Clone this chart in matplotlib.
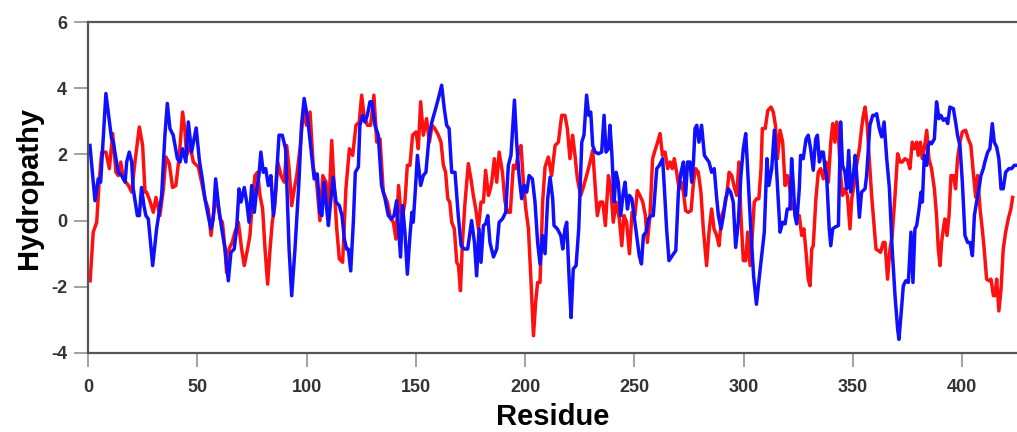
import matplotlib
matplotlib.use('Agg')
import matplotlib.pyplot as plt

plt.rcParams['font.family'] = ['Liberation Sans', 'DejaVu Sans']
plt.rcParams['axes.unicode_minus'] = False

# red profile (residue, hydropathy)
red_x = [1, 2.4, 4.0, 5.2, 6.3, 8.2, 9.8, 11.3, 12.8, 13.9, 15.0, 16.2, 18.5, 20.0, 21.5, 23.5, 25.0, 26.1, 26.8,
         28.3, 29.9, 31.1, 32.9, 34.5, 35.7, 37.2, 38.7, 40.2, 41.8, 43.3, 44.4, 45.1, 46.7, 48.2, 49.7, 50.5, 52.3,
         53.5, 55.0, 56.3, 57.3, 58.9, 60.4, 61.5, 62.7, 63.4, 64.5, 66.0, 67.2, 68.8, 70.3, 71.5, 73.0, 74.1, 75.2,
         76.4, 77.6, 78.7, 79.9, 81.0, 82.2, 83.3, 84.3, 85.5, 86.8, 88.3, 89.8, 90.9, 92.0, 93.2, 94.4, 95.5, 97.0,
         98.5, 100.0, 101.6, 103.1, 104.6, 106.1, 107.4, 108.9, 110.0, 111.5, 112.5, 113.8, 115.0, 116.5, 118.0,
         119.6, 121.1, 122.6, 124.1, 125.2, 126.3, 127.8, 129.3, 130.8, 132.1, 133.6, 135.1, 136.9, 138.5, 139.7,
         140.9, 142.1, 143.5, 145.0, 146.1, 147.3, 148.5, 150.1, 151.1, 152.2, 153.4, 154.9, 156.2, 157.4, 158.7,
         160.3, 161.5, 162.6, 163.6, 164.6, 165.5, 166.4, 167.6, 168.7, 169.5, 170.4, 171.3, 172.5, 174.0, 175.2,
         176.3, 177.4, 178.6, 179.8, 180.9, 181.9, 183.2, 184.1, 184.7, 185.9, 187.0, 188.1, 189.6, 190.8, 192.0,
         193.2, 194.6, 195.7, 196.9, 198.1, 199.2, 200.3, 201.5, 202.7, 203.8, 204.8, 205.7, 206.8, 208.0, 209.1,
         210.6, 212.1, 213.7, 215.2, 216.7, 218.2, 219.3, 220.5, 221.7, 222.8, 223.9, 225.4, 226.6, 228.1, 229.7,
         230.9, 232.0, 233.0, 234.3, 235.5, 236.7, 238.1, 239.2, 240.3, 241.6, 243.1, 244.2, 245.2, 246.4, 247.7,
         248.9, 250.2, 251.3, 252.5, 253.8, 255.0, 255.9, 257.1, 258.3, 259.4, 260.6, 261.7, 262.8, 264.0, 265.2,
         266.3, 267.3, 268.2, 269.3, 270.4, 271.4, 272.4, 273.4, 274.6, 275.9, 277.0, 278.0, 279.2, 280.4, 281.5,
         282.3, 283.0, 284.1, 285.3, 286.4, 287.6, 288.7, 289.9, 291.0, 292.2, 293.3, 294.5, 295.7, 296.8, 297.8,
         298.7, 299.8, 300.9, 301.8, 302.9, 303.9, 304.8, 305.9, 306.9, 307.9, 308.5, 309.8, 311.0, 312.5, 313.5,
         314.5, 315.4, 316.6, 317.8, 318.9, 319.9, 321.1, 321.9, 323.0, 324.2, 325.4, 326.5, 327.5, 328.5, 329.5,
         330.3, 331.1, 331.8, 333.0, 334.1, 335.2, 336.4, 337.6, 338.7, 339.8, 340.7, 341.7, 342.5, 343.3, 344.3,
         345.2, 346.3, 347.4, 348.6, 349.4, 350.4, 351.6, 352.9, 353.9, 354.7, 355.5, 356.5, 357.4, 358.5, 359.6,
         360.5, 361.6, 362.6, 363.8, 364.6, 365.8, 366.9, 367.9, 369.2, 370.4, 371.5, 372.5, 373.7, 375.0, 376.0,
         377.1, 378.0, 379.1, 379.8, 380.8, 381.7, 382.6, 383.7, 384.7, 385.9, 387.2, 388.2, 389.0, 389.8, 390.5,
         391.3, 392.0, 393.0, 393.9, 394.8, 395.9, 396.9, 397.8, 398.9, 400.0, 401.5, 402.7, 403.9, 405.0, 406.1,
         407.0, 408.1, 409.1, 410.0, 411.1, 412.2, 413.1, 414.2, 414.9, 415.7, 416.7, 417.7, 418.7, 419.8, 421.0,
         422.2, 423.0]
red_y = [-1.82, -0.35, -0.05, 1.26, 2.07, 2.07, 1.57, 2.63, 1.46, 1.36, 1.77, 1.26, 1.06, 0.86, 1.77, 2.83, 2.27,
         0.86, 0.86, 0.6, 0.25, 0.7, 0.15, 0.96, 1.92, 1.72, 1.0, 1.06, 1.97, 3.28, 2.68, 1.97, 2.27, 1.77, 1.67,
         1.62, 1.06, 0.66, 0.35, -0.45, 0.15, 0.76, 0.05, -0.05, -0.86, -1.57, -0.86, -0.66, -0.35, -0.05, -0.86,
         -1.36, -0.86, -0.45, 0.56, 1.36, 1.46, 0.76, 0.35, -0.86, -1.92, -0.86, -0.05, 0.45, 1.77, 1.36, 1.16, 2.27,
         1.57, 0.45, 0.96, 1.36, 2.17, 3.28, 2.88, 3.28, 1.6, 1.16, 0.0, 1.36, 1.16, 0.05, 2.42, 1.16, -0.25, -1.16,
         -1.26, 0.96, 2.17, 1.97, 2.88, 2.98, 3.79, 3.18, 2.88, 2.88, 3.79, 2.37, 2.47, 0.86, 0.56, 0.05, -0.05,
         -0.56, 1.06, -0.05, 0.56, 1.67, 1.67, 2.58, 2.68, 2.17, 3.59, 2.58, 3.08, 2.37, 2.88, 2.78, 2.58, 2.37, 1.67,
         1.46, 0.66, 0.56, -0.05, -0.25, -1.26, -1.36, -2.12, -0.66, 0.56, 1.72, 1.26, 0.76, 0.35, -0.25, 0.56, 0.56,
         1.52, 0.76, 0.96, 1.16, 1.87, 1.16, 2.07, 1.46, 0.56, 0.25, 0.25, 1.67, 1.57, 2.07, 2.27, 1.16, 0.35, -0.25,
         -1.87, -3.48, -2.47, -1.87, -1.87, 0.56, 1.62, 1.92, 1.36, 2.27, 2.37, 3.18, 3.18, 2.78, 1.87, 2.58, 1.97,
         1.26, 0.76, 1.0, 1.36, 1.77, 2.12, 1.06, 0.15, 0.56, 0.56, -0.15, 1.36, 0.96, -0.05, 0.56, 0.05, -0.76,
         0.15, -0.05, -1.0, 0.25, 0.15, 0.91, 0.76, 0.56, 0.15, -0.66, 0.15, 1.87, 2.12, 2.37, 2.63, 1.97, 2.07,
         1.57, 1.77, 1.57, 1.87, 1.46, 0.96, 1.16, 0.86, 0.3, 0.25, 0.3, 1.16, 1.57, 1.46, 0.86, -0.25, -0.86, -1.36,
         -0.35, 0.35, -0.25, -0.45, -0.76, 0.15, 0.35, 0.76, 1.46, 1.36, 1.0, 0.76, 1.77, 0.15, -1.21, -1.21, -0.35,
         -1.36, -0.45, 0.56, 0.66, 0.66, 1.57, 2.78, 2.78, 3.33, 3.43, 3.28, 2.88, 1.87, 2.73, 2.37, 1.06, 1.36, 0.96,
         0.35, 0.56, 0.05, 0.15, -0.45, -0.25, -0.96, -1.77, -1.97, -0.86, -0.76, 0.66, 1.46, 1.57, 1.26, 1.77, 1.16,
         2.37, 2.93, 2.37, 2.98, 2.58, 1.36, 0.76, 0.96, 0.76, -0.25, 0.66, 1.06, 1.67, 2.17, 2.78, 3.18, 3.43, 2.88,
         1.87, 0.76, -0.15, -0.86, -0.91, -0.96, -0.66, -0.66, -1.77, -0.86, -0.45, 0.76, 2.02, 1.77, 1.77, 1.87,
         1.82, 1.57, 2.37, 2.17, 2.37, 1.97, 2.37, 1.87, 2.17, 2.73, 1.87, 1.57, 0.96, 0.15, -0.86, -1.36, -0.66,
         -0.25, 0.05, -0.45, 0.15, 1.36, 1.36, 0.96, 1.87, 2.37, 2.68, 2.73, 2.47, 2.27, 1.46, 0.71, 1.36, 0.35,
         -0.25, -0.86, -1.77, -1.82, -1.77, -2.27, -2.27, -1.77, -2.73, -2.07, -0.86, -0.35, 0.05, 0.35, 0.7]

# blue profile (residue, hydropathy)
blue_x = [0.9, 3.2, 4.7, 5.8, 8.2, 10.8, 11.6, 12.8, 13.9, 15.4, 17.0, 17.7, 18.9, 20.0, 20.7, 22.6, 23.5, 24.5,
          25.6, 26.5, 27.6, 29.6, 31.4, 33.7, 35.2, 36.3, 37.5, 39.0, 40.9, 42.1, 43.3, 44.8, 45.9, 47.4, 49.5,
          51.0, 52.3, 53.5, 55.0, 56.3, 57.3, 58.4, 59.9, 61.2, 62.7, 64.2, 65.4, 66.9, 68.0, 69.1, 70.0, 71.5, 72.6,
          73.7, 74.9, 76.1, 77.2, 78.2, 79.1, 80.2, 81.3, 82.5, 83.7, 84.8, 85.9, 87.4, 88.9, 90.4, 92.0, 93.2, 94.7,
          96.5, 97.7, 98.9, 100.5, 102.0, 103.5, 104.9, 106.1, 107.0, 108.0, 109.2, 110.0, 111.0, 112.2, 113.5,
          115.0, 116.2, 117.3, 118.3, 119.1, 120.2, 121.4, 122.3, 123.7, 124.4, 125.7, 126.7, 127.8, 129.0, 129.9,
          131.3, 132.8, 134.3, 135.9, 137.4, 138.9, 140.0, 141.2, 142.0, 143.0, 143.9, 145.0, 146.1, 147.3, 148.2,
          148.8, 149.7, 150.7, 152.2, 153.4, 154.6, 156.0, 157.2, 158.7, 160.3, 161.8, 163.0, 164.1, 165.2, 166.4,
          167.9, 169.4, 170.7, 172.2, 173.7, 175.5, 176.8, 177.8, 178.9, 179.8, 180.9, 181.9, 182.9, 183.9, 185.5,
          187.0, 188.1, 189.6, 191.1, 192.3, 193.5, 195.1, 196.1, 197.2, 198.4, 199.6, 200.7, 201.8, 203.3, 204.5,
          205.7, 206.8, 207.9, 209.1, 210.3, 211.4, 212.6, 213.2, 214.7, 216.3, 217.2, 218.2, 219.0, 220.2, 221.0,
          222.0, 223.3, 224.5, 225.9, 226.9, 228.1, 229.1, 230.0, 230.9, 232.0, 233.5, 235.0, 236.1, 237.0, 238.1,
          238.8, 239.7, 240.7, 241.6, 242.6, 243.7, 244.9, 245.7, 246.8, 247.7, 248.8, 249.8, 251.0, 252.2, 253.2,
          254.1, 255.3, 256.4, 257.5, 258.6, 260.2, 261.4, 262.9, 263.7, 264.7, 265.8, 267.3, 268.9, 270.1, 271.3,
          272.4, 273.4, 274.3, 275.4, 276.2, 277.0, 277.7, 278.5, 279.5, 280.7, 282.0, 283.0, 284.1, 285.3, 286.5,
          287.5, 288.4, 289.6, 290.7, 291.7, 292.9, 294.0, 295.2, 296.3, 297.5, 298.7, 299.8, 300.9, 302.1, 303.3,
          304.5, 305.8, 307.0, 308.2, 309.4, 310.6, 311.5, 312.8, 314.0, 315.8, 316.6, 317.8, 318.9, 319.9, 321.1,
          321.9, 322.7, 323.4, 324.2, 325.4, 326.0, 327.2, 328.5, 329.5, 330.6, 331.8, 332.9, 333.7, 334.6, 335.6,
          336.4, 337.2, 337.9, 339.1, 339.8, 340.7, 341.7, 343.3, 344.3, 345.2, 346.3, 347.1, 348.0, 348.9, 350.1,
          351.0, 351.9, 352.9, 353.9, 355.5, 356.2, 357.0, 357.7, 359.0, 360.0, 360.8, 362.0, 363.1, 364.2, 365.4,
          366.6, 367.9, 369.2, 370.4, 371.0, 371.9, 373.0, 374.1, 375.3, 376.5, 377.4, 378.3, 379.1, 380.2, 381.1,
          381.7, 382.6, 383.7, 384.4, 385.2, 385.9, 387.2, 388.2, 389.3, 390.2, 391.3, 392.4, 393.3, 394.3, 395.9,
          396.9, 397.8, 398.9, 400.0, 401.2, 402.4, 403.5, 404.6, 405.5, 406.5, 407.6, 408.5, 409.6, 410.3, 411.6,
          412.6, 413.7, 414.6, 415.7, 416.7, 417.7, 418.7, 419.8, 421.3, 422.5, 423.8, 425.0]
blue_y = [2.27, 0.6, 1.26, 1.16, 3.84, 2.47, 2.37, 1.87, 1.46, 1.36, 1.16, 1.77, 2.07, 1.77, 0.96, 0.15, 0.15, 1.0,
          0.45, 0.15, 0.05, -1.36, -0.25, 0.76, 2.58, 3.54, 2.78, 2.58, 1.87, 1.77, 2.17, 1.77, 2.98, 2.07, 2.8, 1.8,
          1.26, 0.66, 0.15, -0.25, 0.05, 1.26, 0.35, -0.25, -0.86, -1.82, -0.96, -0.86, -0.25, 0.96, 0.56, 1.0, 0.56,
          -0.05, 1.06, 0.25, 0.96, 1.36, 2.07, 1.46, 1.57, 1.06, 1.36, 0.15, 0.96, 2.58, 2.58, 2.17, -0.86, -2.27,
          -0.86, 1.16, 2.88, 3.69, 3.08, 2.17, 1.26, 1.41, 0.25, 0.15, 1.16, 0.35, -0.15, 0.56, 1.31, 0.56, 0.45,
          0.15, -0.56, -0.86, -0.86, -1.52, -0.05, 1.46, 1.62, 2.88, 3.18, 2.98, 3.18, 3.59, 3.59, 2.88, 2.58, 1.06,
          0.66, 0.15, 0.05, 0.15, 0.6, -0.15, -1.1, 0.45, -0.35, -1.62, -0.45, 0.25, -0.05, 0.86, 1.97, 1.06, 1.36,
          1.46, 2.5, 2.95, 3.3, 3.69, 4.09, 3.38, 2.88, 2.78, 1.46, 1.46, 0.15, -0.76, -0.86, -0.86, 0.0, -0.66,
          -1.67, -0.25, -1.26, -0.15, -0.1, 0.15, -0.66, -1.1, -0.86, -0.05, 0.05, 0.25, 1.67, 1.97, 3.64, 2.37,
          1.36, 0.66, 1.06, 0.86, 1.36, 1.26, 0.56, -0.66, -1.31, -0.45, -1.0, 0.66, 1.31, 0.66, -0.15, -0.25, -0.45,
          -0.86, -0.25, -0.05, -1.87, -2.93, -1.46, -1.36, -0.25, 2.37, 2.58, 3.79, 3.18, 3.28, 2.27, 2.07, 2.02,
          2.07, 3.18, 2.07, 2.17, 2.88, 1.97, 0.56, 1.46, 1.16, 0.15, 0.86, 1.16, 0.35, 0.76, 0.66, 0.15, -0.45,
          -1.06, -1.31, -0.45, -0.35, 0.05, 0.15, 0.15, 1.57, 1.67, 1.87, 0.96, -0.25, -1.21, -1.06, -0.91, 0.86,
          1.46, 1.77, 0.76, 1.77, 1.77, 1.16, 1.77, 2.78, 2.88, 2.37, 2.88, 1.97, 1.87, 1.77, 1.46, 1.57, 0.76, 0.15,
          -0.25, 0.15, 0.66, 0.96, 0.86, 0.56, -0.81, -0.05, 1.36, 2.17, 2.63, 1.16, -0.35, -1.67, -2.53, -1.77,
          -1.06, -0.35, 1.87, 1.06, 1.57, 2.73, 0.56, -0.35, -0.05, -0.1, 0.35, 0.35, 1.87, 1.06, 0.15, -0.1, 0.96,
          1.97, 1.87, 2.47, 2.58, 2.17, 1.52, 2.47, 2.58, 1.77, 2.07, 2.07, 1.57, 1.36, -0.25, -0.76, -0.25, -0.2,
          -0.15, 2.98, 1.67, 1.46, 0.96, 2.12, 0.86, 1.36, 1.97, 1.16, 0.1, 0.86, 0.96, 1.36, 2.17, 2.88, 3.18, 3.18,
          3.23, 2.78, 2.53, 2.98, 1.87, 1.0, -0.86, -2.27, -3.28, -3.59, -2.88, -1.97, -1.82, -1.87, -0.35, -1.87,
          -0.25, -0.15, 0.35, 0.86, 0.56, 1.97, 1.67, 2.27, 2.37, 2.32, 2.47, 3.59, 3.08, 3.18, 3.03, 3.08, 2.93,
          3.43, 3.38, 2.98, 2.58, 2.27, 1.16, -0.45, -0.66, -0.66, -1.06, 0.15, 0.56, 0.96, 1.36, 1.57, 1.77, 2.07,
          2.17, 2.93, 2.37, 2.22, 1.87, 0.96, 0.96, 1.46, 1.57, 1.57, 1.67, 1.67]

fig = plt.figure(figsize=(10.17, 4.32), dpi=100)
ax = fig.add_axes([0.0865, 0.183, 0.9135, 0.766])

ax.plot(red_x, red_y, color='#ff1010', linewidth=2.5)
ax.plot(blue_x, blue_y, color='#1010ff', linewidth=2.5)

ax.set_xlim(0, 425)
ax.set_ylim(-4, 6)
ax.set_xticks(range(0, 401, 50))
ax.set_yticks(range(-4, 7, 2))

for s in ['left', 'bottom', 'top']:
    ax.spines[s].set_color('#555555')
    ax.spines[s].set_linewidth(1.6)
ax.spines['right'].set_visible(False)

ax.tick_params(axis='both', direction='out', length=10, width=1.1, color='#888888',
               labelsize=13, labelcolor='#333333')
ax.tick_params(axis='x', pad=9)
ax.tick_params(axis='y', pad=5)
for lab in ax.get_xticklabels() + ax.get_yticklabels():
    lab.set_fontweight('bold')

ax.set_xlabel('Residue', fontsize=21, fontweight='bold', labelpad=5)
ax.set_ylabel('Hydropathy', fontsize=21, fontweight='bold', labelpad=6)

fig.savefig('out.png', dpi=100)
